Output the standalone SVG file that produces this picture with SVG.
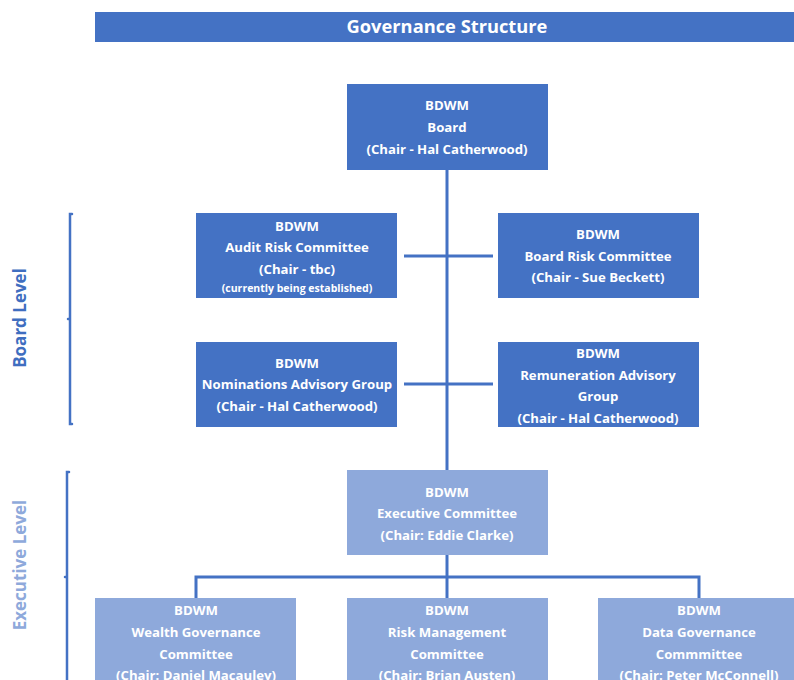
<svg xmlns="http://www.w3.org/2000/svg" width="794" height="680" viewBox="0 0 794 680">
<style>
.box{fill:#4472C4}
.lbox{fill:#8EA9DB}
.t{font-family:"Open Sans","Liberation Sans",sans-serif;font-weight:bold;font-size:13.2px;fill:#FFFFFF;text-anchor:middle}
.s{font-size:10.5px}
.c{stroke:#4472C4;stroke-width:3;fill:none}
.br{stroke:#4472C4;stroke-width:2.5;fill:none;stroke-linecap:round}
</style>
<rect width="794" height="680" fill="#FFFFFF"/>
<g id="title">
<rect x="95" y="12" width="699" height="30" fill="#4472C4"/>
<text x="447" y="33" class="t" style="font-size:18.3px">Governance Structure</text>
</g>
<g id="connectors">
<line class="c" x1="447" y1="170" x2="447" y2="470"/>
<line class="c" x1="404" y1="256" x2="493" y2="256"/>
<line class="c" x1="404" y1="384" x2="493" y2="384"/>
<polyline class="c" points="447,555 447,577"/>
<polyline class="c" points="196,598 196,577 699,577 699,598"/>
<line class="c" x1="447" y1="577" x2="447" y2="598"/>
</g>
<g id="board-level">
<path class="br" d="M72,214 L70,214 L70,424 L72,424 M70,319 L68,319"/>
<text transform="translate(26,318) rotate(-90)" class="t" style="font-size:17px;fill:#3F6EC0">Board Level</text>
</g>
<g id="executive-level">
<path class="br" d="M69,472 L67,472 L67,680 M67,577 L65,577"/>
<text transform="translate(26,565) rotate(-90)" class="t" style="font-size:17px;fill:#8EA9DB">Executive Level</text>
</g>
<g id="board">
<rect class="box" x="347" y="84" width="201" height="86"/>
<text class="t" x="447" y="110">BDWM</text>
<text class="t" x="447" y="132">Board</text>
<text class="t" x="447" y="154">(Chair - Hal Catherwood)</text>
</g>
<g id="audit">
<rect class="box" x="196" y="213" width="201" height="85"/>
<text class="t" x="297" y="231">BDWM</text>
<text class="t" x="297" y="252">Audit Risk Committee</text>
<text class="t" x="297" y="274">(Chair - tbc)</text>
<text class="t s" x="297" y="292">(currently being established)</text>
</g>
<g id="boardrisk">
<rect class="box" x="498" y="213" width="201" height="85"/>
<text class="t" x="598" y="239">BDWM</text>
<text class="t" x="598" y="261">Board Risk Committee</text>
<text class="t" x="598" y="282">(Chair - Sue Beckett)</text>
</g>
<g id="nominations">
<rect class="box" x="196" y="342" width="201" height="85"/>
<text class="t" x="297" y="368">BDWM</text>
<text class="t" x="297" y="389">Nominations Advisory Group</text>
<text class="t" x="297" y="411">(Chair - Hal Catherwood)</text>
</g>
<g id="remuneration">
<rect class="box" x="498" y="342" width="201" height="85"/>
<text class="t" x="598" y="358">BDWM</text>
<text class="t" x="598" y="380">Remuneration Advisory</text>
<text class="t" x="598" y="401">Group</text>
<text class="t" x="598" y="423">(Chair - Hal Catherwood)</text>
</g>
<g id="executive">
<rect class="lbox" x="347" y="470" width="201" height="85"/>
<text class="t" x="447" y="497">BDWM</text>
<text class="t" x="447" y="518">Executive Committee</text>
<text class="t" x="447" y="540">(Chair: Eddie Clarke)</text>
</g>
<g id="wealth">
<rect class="lbox" x="95" y="598" width="201" height="90"/>
<text class="t" x="196" y="615">BDWM</text>
<text class="t" x="196" y="637">Wealth Governance</text>
<text class="t" x="196" y="659">Committee</text>
<text class="t" x="196" y="680">(Chair: Daniel Macauley)</text>
</g>
<g id="riskmgmt">
<rect class="lbox" x="347" y="598" width="201" height="90"/>
<text class="t" x="447" y="615">BDWM</text>
<text class="t" x="447" y="637">Risk Management</text>
<text class="t" x="447" y="659">Committee</text>
<text class="t" x="447" y="680">(Chair: Brian Austen)</text>
</g>
<g id="datagov">
<rect class="lbox" x="598" y="598" width="201" height="90"/>
<text class="t" x="699" y="615">BDWM</text>
<text class="t" x="699" y="637">Data Governance</text>
<text class="t" x="699" y="659">Commmittee</text>
<text class="t" x="699" y="680">(Chair: Peter McConnell)</text>
</g>
</svg>
